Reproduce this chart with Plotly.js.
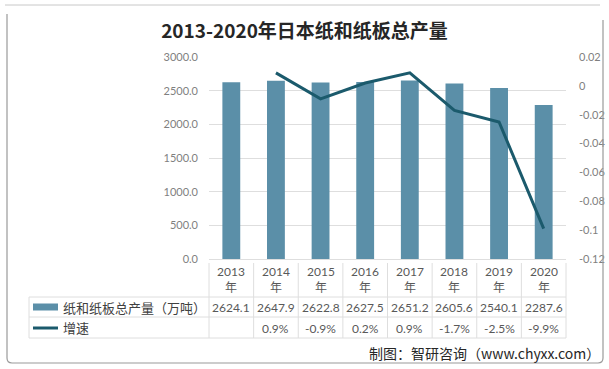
<!DOCTYPE html>
<html>
<head>
<meta charset="utf-8">
<script src="https://cdn.plot.ly/plotly-3.0.1.min.js"></script>
<style>html,body{margin:0;padding:0;background:#fff;}#chart{width:609px;height:369px;}</style>
</head>
<body>
<div id="chart"></div>
<script>
const years = ["2013", "2014", "2015", "2016", "2017", "2018", "2019", "2020"];
const yearLabels = ["2013<br>年", "2014<br>年", "2015<br>年", "2016<br>年", "2017<br>年", "2018<br>年", "2019<br>年", "2020<br>年"];
const output = [2624.1, 2647.9, 2622.8, 2627.5, 2651.2, 2605.6, 2540.1, 2287.6];
const growth = [null, 0.009, -0.009, 0.002, 0.009, -0.017, -0.025, -0.099];
const growthText = ["", "0.9%", "-0.9%", "0.2%", "0.9%", "-1.7%", "-2.5%", "-9.9%"];
const leftTicks = [0, 500, 1000, 1500, 2000, 2500, 3000];
const leftTickText = ["0.0", "500.0", "1000.0", "1500.0", "2000.0", "2500.0", "3000.0"];
const rightTicks = [-0.12, -0.1, -0.08, -0.06, -0.04, -0.02, 0, 0.02];
const rightTickText = ["-0.12", "-0.1", "-0.08", "-0.06", "-0.04", "-0.02", "0", "0.02"];
const seriesNames = ["纸和纸板总产量（万吨）", "增速"];
const titleText = "2013-2020年日本纸和纸板总产量";
const sourceText = "制图：智研咨询（www.chyxx.com）";

const barColor = "#5b8fa8";
const lineColor = "#1b5a6c";
const gridColor = "#dedede";
const font = "Noto Sans CJK SC, sans-serif";
const numFont = "Lato, Noto Sans CJK SC, sans-serif";

const W = 609, H = 369;
const L = 209, R = 566, T = 57, B = 259;
const pw = R - L, ph = B - T;
const px = x => (x - L) / pw;
const py = y => (B - y) / ph;

const traces = [
  {type: "bar", x: years, y: output, name: seriesNames[0], marker: {color: barColor}, width: 0.4, hoverinfo: "skip"},
  {type: "scatter", mode: "lines", x: years, y: growth, yaxis: "y2", name: seriesNames[1], line: {color: lineColor, width: 3}, connectgaps: false, hoverinfo: "skip"}
];

const shapes = [];
const annotations = [];
const lineStyle = {color: gridColor, width: 1};
// table horizontal lines
[297, 317, 338].forEach(y => shapes.push({type: "line", xref: "paper", yref: "paper", x0: px(29), x1: 1, y0: py(y), y1: py(y), line: lineStyle}));
// vertical lines
for (let i = 0; i <= years.length; i++) {
  shapes.push({type: "line", xref: "paper", yref: "paper", x0: i / years.length, x1: i / years.length, y0: py(263), y1: py(338), line: lineStyle});
}
shapes.push({type: "line", xref: "paper", yref: "paper", x0: px(29), x1: px(29), y0: py(297), y1: py(338), line: lineStyle});
// legend swatches
shapes.push({type: "rect", xref: "paper", yref: "paper", x0: px(33), x1: px(58), y0: py(303.5), y1: py(310.5), fillcolor: barColor, line: {width: 0}});
shapes.push({type: "line", xref: "paper", yref: "paper", x0: px(33), x1: px(58), y0: py(328), y1: py(328), line: {color: lineColor, width: 3}});
// card frame
shapes.push({type: "line", xref: "paper", yref: "paper", x0: px(5), x1: px(600), y0: py(5), y1: py(5), line: {color: "#c8c8c8", width: 1}});
shapes.push({type: "path", xref: "paper", yref: "paper",
  path: `M ${px(7)},${py(14)} L ${px(7)},${py(358)} Q ${px(7)},${py(363)} ${px(12)},${py(363)} L ${px(598)},${py(363)} Q ${px(603)},${py(363)} ${px(603)},${py(358)} L ${px(603)},${py(20)}`,
  line: {color: "#9a9a9a", width: 1.2}});

// header, values (x = category index on the category axis)
years.forEach((yr, i) => {
  annotations.push({xref: "x", yref: "paper", x: i, y: py(279), text: yearLabels[i], showarrow: false, font: {family: numFont, size: 12, color: "#595959"}, yanchor: "middle"});
  annotations.push({xref: "x", yref: "paper", x: i, y: py(307), text: output[i].toFixed(1), showarrow: false, font: {family: numFont, size: 12, color: "#595959"}, yanchor: "middle"});
  if (growthText[i]) annotations.push({xref: "x", yref: "paper", x: i, y: py(328), text: growthText[i], showarrow: false, font: {family: numFont, size: 12, color: "#595959"}, yanchor: "middle"});
});
annotations.push({xref: "paper", yref: "paper", x: px(61), y: py(307), xanchor: "left", yanchor: "middle", text: seriesNames[0], showarrow: false, font: {family: font, size: 13, color: "#404040"}});
annotations.push({xref: "paper", yref: "paper", x: px(61), y: py(327), xanchor: "left", yanchor: "middle", text: seriesNames[1], showarrow: false, font: {family: font, size: 13, color: "#404040"}});
annotations.push({xref: "paper", yref: "paper", x: px(602), y: py(353), xanchor: "right", yanchor: "middle", text: sourceText, showarrow: false, font: {family: font, size: 14, color: "#262626"}});

const layout = {
  width: W, height: H,
  margin: {l: L, r: W - R, t: T, b: H - B, pad: 0},
  paper_bgcolor: "#ffffff", plot_bgcolor: "#ffffff",
  showlegend: false,
  title: {text: titleText, x: 0.5, xref: "container", xanchor: "center", y: 1 - 31 / H, yref: "container", yanchor: "middle",
          font: {family: font, size: 19, color: "#262626", weight: "bold"}},
  xaxis: {type: "category", categoryarray: years, showticklabels: false, ticks: "", showgrid: false, zeroline: false, showline: true, linecolor: gridColor, range: [-0.5, 7.5], fixedrange: true},
  yaxis: {range: [0, 3000], tickvals: leftTicks, ticktext: leftTickText, showgrid: true, gridcolor: gridColor, zeroline: false, ticks: "", ticklabelstandoff: 10,
          tickfont: {family: numFont, size: 11, color: "#7f7f7f"}, fixedrange: true},
  yaxis2: {overlaying: "y", side: "right", range: [-0.12, 0.02], tickvals: rightTicks, ticktext: rightTickText, showgrid: false, zeroline: false, ticks: "", ticklabelstandoff: 12,
          tickfont: {family: numFont, size: 11, color: "#7f7f7f"}, fixedrange: true},
  shapes: shapes,
  annotations: annotations
};

Plotly.newPlot("chart", traces, layout, {staticPlot: true, displayModeBar: false});
</script>
</body>
</html>
